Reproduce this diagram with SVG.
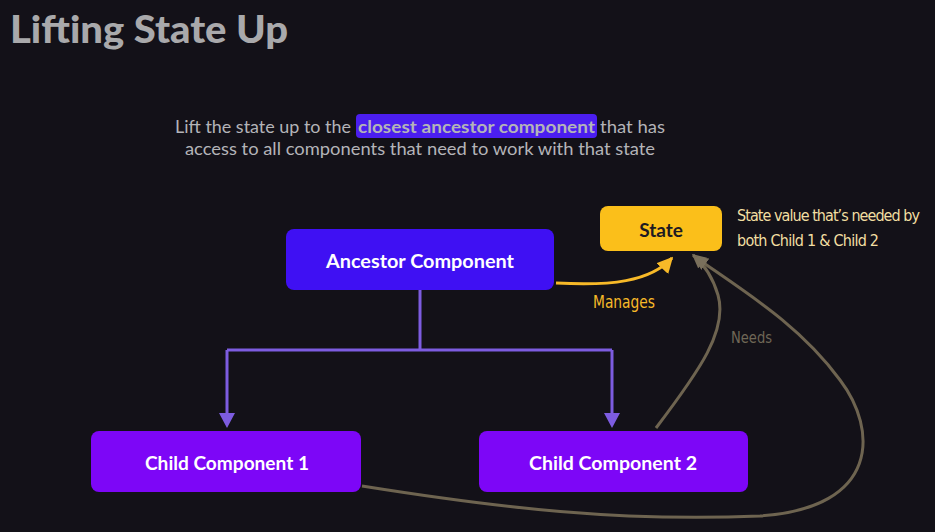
<svg xmlns="http://www.w3.org/2000/svg" width="935" height="532" viewBox="0 0 935 532">
<defs>
<style>
.box-text{font-family:"Lato","Noto Sans",sans-serif;font-weight:700;font-size:19px;text-anchor:middle;dominant-baseline:central}
.hand{font-family:"Liberation Sans Narrow","DejaVu Sans Condensed","Liberation Sans",sans-serif}
.sub{font-family:"Lato","Noto Sans",sans-serif;font-size:17px;fill:#b4b4b8}
</style>
<marker id="arrYellow" viewBox="0 0 10 10" refX="9" refY="5" markerWidth="16" markerHeight="16" markerUnits="userSpaceOnUse" orient="auto">
<path d="M0,0 L10,5 L0,10 Z" fill="#f7b928"/>
</marker>
<marker id="arrGray" viewBox="0 0 10 10" refX="9" refY="5" markerWidth="14" markerHeight="14" markerUnits="userSpaceOnUse" orient="auto">
<path d="M0,0 L10,5 L0,10 Z" fill="#7a705c"/>
</marker>
</defs>
<rect width="935" height="532" fill="#131118"/>
<text x="10" y="43" font-family="Lato,'Noto Sans',sans-serif" font-weight="900" font-size="38" fill="#a9a9ab" textLength="278" lengthAdjust="spacingAndGlyphs">Lifting State Up</text>
<rect x="356" y="114" width="241" height="24" rx="4" fill="#4b1ef0"/>
<text class="sub" x="175" y="133" textLength="176" lengthAdjust="spacingAndGlyphs">Lift the state up to the</text>
<text class="sub" x="358" y="133" font-weight="700" fill="#d8d4ff" textLength="237" lengthAdjust="spacingAndGlyphs">closest ancestor component</text>
<text class="sub" x="600" y="133" textLength="65" lengthAdjust="spacingAndGlyphs">that has</text>
<text class="sub" x="185" y="155" textLength="470" lengthAdjust="spacingAndGlyphs">access to all components that need to work with that state</text>
<g id="connectors" fill="none">
<path d="M420,290 V350 M227,350 H612 M227,350 V416 M612,350 V416" stroke="#7d5ce0" stroke-width="3"/>
<path d="M219,413 L235,413 L227,428 Z M604,413 L620,413 L612,428 Z" fill="#7d5ce0"/>
<path d="M556,283 C610,286 650,282 672,258" stroke="#f7b928" stroke-width="3" marker-end="url(#arrYellow)"/>
<path d="M656,428 C700,370 728,330 718,295 C713,278 705,265 693,255" stroke="#6e6450" stroke-width="3" marker-end="url(#arrGray)"/>
<path d="M362,486 C500,508 620,522 760,516 C880,508 878,430 840,380 C800,325 745,292 695,257" stroke="#6e6450" stroke-width="3" marker-end="url(#arrGray)"/>
</g>
<text x="593" y="308" class="hand" font-size="17" fill="#f7b928" textLength="62" lengthAdjust="spacingAndGlyphs">Manages</text>
<text x="731" y="343" class="hand" font-size="16" fill="#6f6756" textLength="41" lengthAdjust="spacingAndGlyphs">Needs</text>
<g id="state">
<rect x="600" y="206" width="122" height="45" rx="8" fill="#fbbf1a"/>
<text class="box-text" x="661" y="229" fill="#1e1a22">State</text>
</g>
<g id="note">
<text x="737" y="221" class="hand" font-size="16" fill="#f2dfa2" textLength="183">State value that’s needed by</text>
<text x="737" y="246" class="hand" font-size="16" fill="#f2dfa2" textLength="142">both Child 1 &amp; Child 2</text>
</g>
<g id="ancestor">
<rect x="286" y="229" width="268" height="61" rx="8" fill="#3f10f3"/>
<text class="box-text" x="420" y="260" fill="#ffffff" textLength="188" lengthAdjust="spacingAndGlyphs">Ancestor Component</text>
</g>
<g id="child1">
<rect x="91" y="431" width="270" height="61" rx="8" fill="#7d06f7"/>
<text class="box-text" x="227" y="462" fill="#ffffff" textLength="164" lengthAdjust="spacingAndGlyphs">Child Component 1</text>
</g>
<g id="child2">
<rect x="479" y="431" width="269" height="61" rx="8" fill="#7d06f7"/>
<text class="box-text" x="613" y="462" fill="#ffffff" textLength="168" lengthAdjust="spacingAndGlyphs">Child Component 2</text>
</g>
</svg>
